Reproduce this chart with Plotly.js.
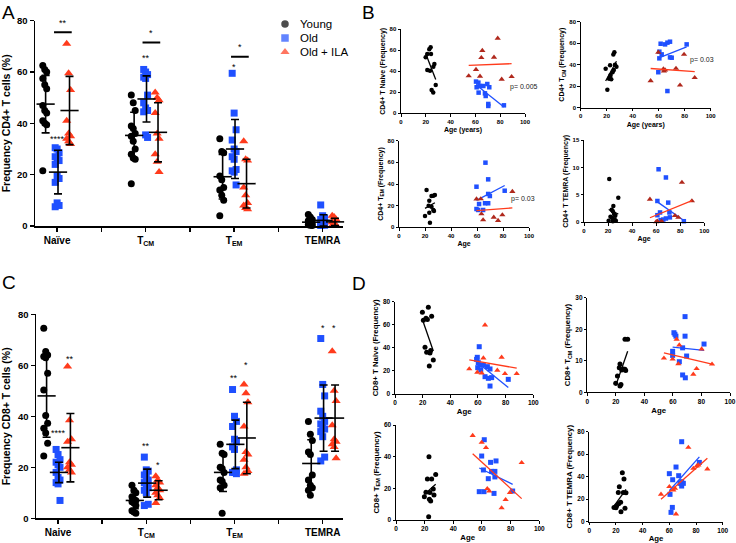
<!DOCTYPE html>
<html><head><meta charset="utf-8">
<script src="https://cdn.plot.ly/plotly-3.0.1.min.js"></script>
<style>html,body{margin:0;padding:0;background:#fff}#chart{width:736px;height:543px}</style>
</head><body><div id="chart"></div><script>
// ---------- Panel A / C data (frequency, %) ----------
const categoriesA = ['Naïve','T<sub>CM</sub>','T<sub>EM</sub>','TEMRA'];
const categoriesC = ['Naive','T<sub>CM</sub>','T<sub>EM</sub>','TEMRA'];
const groupNames = ['Young','Old','Old + ILA'];

const cd4Young = [[62.5,61,60,57.5,55,53.5,47,45,44,41,40,39.5,21.5],[51,48,45,39,38,36,35,33,30,28,26.5,26,16.5],[34,29,28.5,19.5,18,15,14,12,10,4],[4.5,3.5,2.5,2,1.5,1,0.5,0.3,0.2]];
const cd4Old   = [[30.5,30,28.5,27,26,25.5,24,19.5,18.5,17,9,8,7.5],[61,60,59,58,57.5,51,48,46,45,44.5,35.5,34.5],[59.5,44,37.5,33.5,30,29,27,26,22,21.5,21,16],[8.2,4,3,2.5,2,1.5,1,0.5,0.3,0.2]];
const cd4Ila   = [[71,59.5,53,41,36,35,34,33,32],[52,50,49,44,36,34,28,25,21],[33,26,25.5,15,12,9,8,7,6.5],[4,3.5,2.5,1.5,0.5,0.3,0.2]];
const cd4YoungMean = [47.5,35.3,19.2,1.5], cd4YoungSD = [11.2,9,8.7,1.4];
const cd4OldMean   = [21,49.5,30,2.2],    cd4OldSD   = [8.5,9,11.5,2.2];
const cd4IlaMean   = [45,36.5,16.5,1.6],  cd4IlaSD   = [13.3,11.5,9.5,1.4];
const cd4SigCat  = [0,0,1,1,2,2];
const cd4SigKind = ['bar','Old','bar','Old','bar','Old'];
const cd4SigY    = [75.5,34,71.5,65.5,66,62];
const cd4SigText = ['**','****','*','**','*','*'];

const cd8Young = [[74.5,65.4,64,63.5,63,56.9,50.3,40.3,37.3,35.3,33.5,29.4,24.4],[13,11,10,8.5,7.5,7,6.5,6,5,3,2.5,2],[29,25.5,25,20,19.5,18,15,14.5,13,12,2],[38,33,30.5,26,25,17,15,13,12,11,9]];
const cd8Old   = [[27,25,23,22,21,20,18,16,15,14,13.5,7],[24,19,18.5,17,16,15,14,13,12,11,10,5.5,5],[50.5,40,38,36,31,30,28,27,19,18,18,17.5],[70.5,52.5,48,42,40,38,37,36,35,34,32,24,22.5]];
const cd8Ila   = [[59.5,38.5,31,30,22,21,20,19,18],[16.5,15,14,13,12,11,10,9,8,6],[52.5,49,45.5,36,26,25,23,20,18.5,17.5],[65.5,50,46,36.5,31,30,29,28,23.5]];
const cd8YoungMean = [48,7,18,21.5],    cd8YoungSD = [16.2,3.2,7.5,9.3];
const cd8OldMean   = [18,13.8,29,39.3], cd8OldSD   = [4,5.5,9.5,13];
const cd8IlaMean   = [27.7,11,31.5,39.3], cd8IlaSD = [13.4,3.7,14,13];
const cd8SigCat  = [0,0,1,1,2,2,3,3];
const cd8SigKind = ['Old','Ila','Old','Ila','Old','Ila','Old','Ila'];
const cd8SigY    = [33.5,62.5,28.5,21,55,60,74.5,74.5];
const cd8SigText = ['****','**','**','*','**','*','*','*'];

// ---------- Panel B / D data (age vs frequency) ----------
const b1YoungAge=[23.9,22.8,21.2,24.2,19.9,26.9,26.1,21.2,23.4,28,24.7,26];
const b1YoungVal=[62.9,61,56.5,56.5,53.3,47,44.4,41.3,40.6,27,22.2,19.7];
const b1OldAge=[60.5,62.4,61,63.7,66.4,69.6,71.2,62.6,67.7,68.3,70.4,70.4,83];
const b1OldVal=[30.2,29.2,24.8,26,26,27.9,24.8,19.7,19,16.5,8.9,7,7.6];
const b1IlaAge=[78,65.6,64.8,75,60.5,54.6,63.7,81.2,89.2];
const b1IlaVal=[71.4,59.7,53,53.3,41.6,35.6,35.2,32.4,34.9];

const b2YoungAge=[19.2,20.5,25.1,25.9,22.6,26.4,27.5,21.8,22.5,23.5,24.5,25.5,23];
const b2YoungVal=[36.3,16.7,49.6,51.5,39.4,39.9,38,27,29,26.5,33,35,30.5];
const b2OldAge=[61.5,64.9,66.7,68.7,62.3,60.5,60.5,68.7,70,81.5,59.7,66.7];
const b2OldVal=[59.5,58.9,60.5,61.4,49.6,52.1,45.9,46.8,46.5,58.9,33,15.5];
const b2IlaAge=[59.7,63.6,64.9,73.3,79.5,53.8,76.4,87.7,64];
const b2IlaVal=[51.5,35.9,35,36.5,49.6,25,21,27.9,34];

const b3YoungAge=[21.2,25,26.4,27.6,23.3,22.8,25,26.4,20,23.3,26.9,23.8];
const b3YoungVal=[34.5,28.9,29.2,29.8,24.6,20,19,16,10.5,13.5,15,4.3];
const b3OldAge=[66.5,68.6,59.6,81.3,68.6,69.9,66.2,68.6,61.6,59.6,60.9,64.7];
const b3OldVal=[59.7,44.3,37.5,33.8,30.8,28.9,22.2,22.2,21.5,16.9,16,16];
const b3IlaAge=[59.6,62.9,87.2,63.4,64.7,72.9,76.2,79.5];
const b3IlaVal=[26.1,26.2,33,12.3,6.8,9.2,6.2,11.4];

const b4YoungAge=[21,28.5,24.4,23,24,25,26,22,23.5,25.5,26.5,24,20.5];
const b4YoungVal=[7.9,4.5,3,2.3,2,1.5,1.2,1,0.8,0.5,0.3,0.2,0.3];
const b4OldAge=[62,68.1,61,70,63.2,61,71,63.7,65.9,68.1,71.4,83];
const b4OldVal=[9.7,8.2,3.9,3.6,1.8,1.3,1.8,0.4,0.5,0.7,0.9,0.2];
const b4IlaAge=[54.8,81.4,89.7,75.6,78.4,61,64.5,60];
const b4IlaVal=[4.2,7.3,3.9,1.2,0.9,0.2,0.2,0.1];

const d1YoungAge=[19.8,24.1,22.4,23.4,26.5,20.5,21.7,22.9,25.8,25.3,27.7,24.8];
const d1YoungVal=[70.8,75.1,65.6,64.5,67.4,63.9,40.5,36.1,37.6,35.5,29.5,24.3];
const d1OldAge=[60.9,59.5,59,60.2,61.4,59.8,63.9,66.8,68.7,65.1,67.5,69.9,68.7,81.9,62];
const d1OldVal=[41,31.8,30,27.2,25.1,22.8,25.1,23.7,21.7,15,13.6,14.2,6.9,12.7,20.8];
const d1IlaAge=[65.1,53.7,63.9,77.1,74,79.5,88,59.5,62.7];
const d1IlaVal=[59.8,21.7,31.2,31.8,20.5,17.6,17.6,18.8,18.2];

const d2YoungAge=[26.4,28.3,19.9,22.9,23.6,21.1,22.4,22.9,25.2,26.4,24.1,26.9];
const d2YoungVal=[16.8,16.8,2.9,2,2.5,5.2,7.8,9,7.4,7.3,7.1,6.9];
const d2OldAge=[68.5,60.7,61.4,62.1,68.5,81.8,59.8,66.8,59.8,69.6,64.5,66.8,68.7];
const d2OldVal=[24,18.9,18.4,17.8,17.8,15.3,13,14.1,11.7,11.5,9.7,5.5,4.6];
const d2IlaAge=[53.7,59.8,62.6,64.5,63.8,74.3,76.6,80.1,87.4];
const d2IlaVal=[10.8,10.5,16.8,15,9,5.7,7.5,13.7,8.9];

const d3YoungAge=[23,21.9,24.9,27.7,19.8,20.9,23.7,26,26.5,23.3,24.2,22.8];
const d3YoungVal=[40,25.9,25.9,28.8,14.7,17.5,17.3,19.6,15.8,13.1,12,2.1];
const d3OldAge=[61.6,59.8,66,69.8,61,66.7,69,69,64.4,81.4,68.4,58.1,61.4];
const d3OldVal=[50.7,40.4,36.4,37.3,31.6,30.7,30.7,27.2,26.1,18.3,16.8,17.9,17.9];
const d3IlaAge=[53.5,59.8,62.8,87.7,63.7,65.1,79.5,76.5,73.7];
const d3IlaVal=[53.3,49,45.7,36.2,19.8,18.3,17.3,12.8,7.6];

const d4YoungAge=[24.75,26,22.5,21.75,25.5,27.5,18.5,20.5,22,23.5,20,26.75,23.75];
const d4YoungVal=[43.6,37.9,31.1,26,26,25.8,12.7,14.2,16,17.2,12.4,11.9,8.9];
const d4OldAge=[69.25,82.5,65,60,62.5,67,69.25,70.5,68,69.25,60.5,62.25,61.25];
const d4OldVal=[71.1,52.7,48.6,42.7,37.3,40.9,35.6,34.1,34.1,31.7,24.3,12.7,8.3];
const d4IlaAge=[74.25,88.5,78,80.5,60,64.25,63,53.75,65,81.75];
const d4IlaVal=[66,46.8,47.4,49.5,31.1,29.6,28.1,24.3,6.8,50.4];

// ---------- styling ----------
const FONT = 'Liberation Sans, Arial, Helvetica, sans-serif';
const BLUE = '#1f50ff', RED = '#ff3b1c', DARKRED = '#b0281c', BLACK = '#000';
const W = 736, H = 543;
const px = (a,b) => [a/W, b/W];
const py = (top,bot) => [1-bot/H, 1-top/H];
const grpOffset = [-0.14, 0, 0.13];
const grpStyle = [
  {color:BLACK, symbol:'circle', size:7},
  {color:BLUE, symbol:'square', size:7},
  {color:RED, symbol:'triangle-up', size:8}
];
const jitter = i => ((i%3)-1)*0.022;

const traces = [];
const shapes = [];
const annotations = [];
const layout = {
  width:W, height:H, margin:{l:0,r:0,t:0,b:0},
  paper_bgcolor:'#fff', plot_bgcolor:'rgba(0,0,0,0)',
  font:{family:FONT, color:BLACK},
  showlegend:false,
  shapes, annotations
};

function catPanel(xn, yn, xdom, ydom, cats, data, means, sds, sig, yTitle){
  const xa = 'x'+(xn===1?'':xn), ya = 'y'+(yn===1?'':yn);
  data.forEach((grp, g) => {
    const xs = [], ys = [];
    grp.forEach((vals, c) => vals.forEach((v, i) => { xs.push(c + grpOffset[g] + jitter(i)); ys.push(v); }));
    traces.push({type:'scatter', mode:'markers', x:xs, y:ys, xaxis:xa, yaxis:ya, name:groupNames[g],
      showlegend:false, cliponaxis:false,
      marker:{color:grpStyle[g].color, symbol:grpStyle[g].symbol, size:grpStyle[g].size, line:{width:0}}});
  });
  means.forEach((m, g) => {
    traces.push({type:'scatter', mode:'markers', x:m.map((v,c)=>c+grpOffset[g]+0.01), y:m, xaxis:xa, yaxis:ya,
      showlegend:false, hoverinfo:'skip', cliponaxis:false,
      marker:{symbol:'line-ew-open', size:13, color:BLACK, line:{width:1.6, color:BLACK}},
      error_y:{type:'data', array:sds[g], visible:true, color:BLACK, thickness:1.6, width:4}});
  });
  // significance marks
  sig.cat.forEach((c, k) => {
    const y = sig.y[k];
    if (sig.kind[k] === 'bar') {
      shapes.push({type:'line', xref:xa, yref:ya, x0:c-0.035, x1:c+0.165, y0:y, y1:y, line:{color:BLACK, width:2}});
      annotations.push({xref:xa, yref:ya, x:c+0.065, y:y+1, text:sig.text[k], showarrow:false, yanchor:'bottom', font:{size:9, family:FONT, color:BLACK}});
    } else {
      const off = sig.kind[k]==='Old' ? grpOffset[1] : grpOffset[2];
      annotations.push({xref:xa, yref:ya, x:c+off, y:y, text:sig.text[k], showarrow:false, yanchor:'middle', font:{size:9, family:FONT, color:BLACK}});
    }
  });
  const xkey = 'xaxis'+(xn===1?'':xn), ykey = 'yaxis'+(yn===1?'':yn);
  layout[xkey] = {domain:xdom, range:[-0.25,3.23], anchor:ya, tickmode:'array', tickvals:[0,1,2,3],
    ticktext:cats, ticks:'outside', ticklen:4, tickwidth:1.5, tickcolor:BLACK,
    minor:{tickmode:'array', tickvals:[0.5,1.5,2.5], ticks:'outside', ticklen:4, tickwidth:1.5, tickcolor:BLACK, showgrid:false},
    showline:true, linewidth:1.5, linecolor:BLACK, showgrid:false, zeroline:false, fixedrange:true,
    tickfont:{size:10, family:FONT, weight:'bold', color:BLACK}};
  layout[ykey] = {domain:ydom, range:[0,80], anchor:xa, tickvals:[0,20,40,60,80], ticks:'outside', ticklen:4, tickwidth:1.5,
    tickcolor:BLACK, showline:true, linewidth:1.5, linecolor:BLACK, showgrid:false, zeroline:false, fixedrange:true,
    tickfont:{size:9.5, family:FONT, weight:'bold', color:BLACK},
    title:{text:yTitle, font:{size:10.5, family:FONT, weight:'bold', color:BLACK}, standoff:5}};
}

catPanel(1, 1, px(35,343), py(20.7,226), categoriesA, [cd4Young, cd4Old, cd4Ila],
  [cd4YoungMean, cd4OldMean, cd4IlaMean], [cd4YoungSD, cd4OldSD, cd4IlaSD],
  {cat:cd4SigCat, kind:cd4SigKind, y:cd4SigY, text:cd4SigText}, 'Frequency CD4+ T cells (%)');
catPanel(2, 2, px(36,343), py(314.3,518.3), categoriesC, [cd8Young, cd8Old, cd8Ila],
  [cd8YoungMean, cd8OldMean, cd8IlaMean], [cd8YoungSD, cd8OldSD, cd8IlaSD],
  {cat:cd8SigCat, kind:cd8SigKind, y:cd8SigY, text:cd8SigText}, 'Frequency CD8+ T cells (%)');

// legend of panel A, drawn on its own hidden axis so the row spacing matches
traces.push({type:'scatter', mode:'markers', x:groupNames.map(()=>5), y:groupNames.map((n,i)=>i),
  xaxis:'x11', yaxis:'y11', showlegend:false, hoverinfo:'skip', cliponaxis:false,
  marker:{color:grpStyle.map(s=>s.color), symbol:grpStyle.map(s=>s.symbol), size:[7.5,7.5,8], line:{width:0}}});
groupNames.forEach((n,i) => annotations.push({xref:'x11', yref:'y11', x:18, y:i, text:n, showarrow:false,
  xanchor:'left', yanchor:'middle', font:{size:11.5, family:FONT, color:BLACK}}));
layout.xaxis11 = {domain:px(280,340), range:[0,60], anchor:'y11', visible:false, fixedrange:true};
layout.yaxis11 = {domain:py(17,59), range:[2.5,-0.5], anchor:'x11', visible:false, fixedrange:true};

function fit(xs, ys){
  const n = xs.length, mx = xs.reduce((a,b)=>a+b,0)/n, my = ys.reduce((a,b)=>a+b,0)/n;
  let sxy = 0, sxx = 0;
  xs.forEach((x,i)=>{ sxy += (x-mx)*(ys[i]-my); sxx += (x-mx)*(x-mx); });
  const b = sxy/sxx, a = my - b*mx;
  const x0 = Math.min(...xs), x1 = Math.max(...xs);
  return {x:[x0,x1], y:[a+b*x0, a+b*x1]};
}

function agePanel(n, xdom, ydom, yRange, yTicks, yTitle, xTitle, groups, triColor, sizes, pText){
  const xa = 'x'+n, ya = 'y'+n;
  const lineColors = [BLACK, BLUE, RED];
  groups.forEach((gr, g) => {
    const st = grpStyle[g];
    traces.push({type:'scatter', mode:'markers', x:gr[0], y:gr[1], xaxis:xa, yaxis:ya, showlegend:false, cliponaxis:false,
      marker:{color: g===2 ? triColor : st.color, symbol:st.symbol, size: g===2 ? sizes.tri : sizes.pt, line:{width:0}}});
    const f = fit(gr[0], gr[1]);
    traces.push({type:'scatter', mode:'lines', x:f.x, y:f.y, xaxis:xa, yaxis:ya, showlegend:false, hoverinfo:'skip',
      line:{color:lineColors[g], width:1.3}});
  });
  if (pText) annotations.push({xref:xa, yref:ya, x:pText.x, y:pText.y, text:pText.text, showarrow:false, xanchor:'left', yanchor:'middle', font:{size:sizes.p, family:FONT, color:'#222'}});
  layout['xaxis'+n] = {domain:xdom, range:[0,100], anchor:ya, tickvals:[0,20,40,60,80,100], ticks:'outside', ticklen:2.5, tickwidth:1,
    tickcolor:BLACK, showline:true, linewidth:1, linecolor:BLACK, showgrid:false, zeroline:false, fixedrange:true,
    tickfont:{size:sizes.tick, family:FONT, weight:'bold', color:BLACK},
    title:{text:xTitle, font:{size:sizes.title, family:FONT, weight:'bold', color:BLACK}, standoff:3}};
  layout['yaxis'+n] = {domain:ydom, range:yRange, anchor:xa, tickvals:yTicks, ticks:'outside', ticklen:2.5, tickwidth:1,
    tickcolor:BLACK, showline:true, linewidth:1, linecolor:BLACK, showgrid:false, zeroline:false, fixedrange:true,
    tickfont:{size:sizes.tick, family:FONT, weight:'bold', color:BLACK},
    title:{text:yTitle, font:{size:sizes.title, family:FONT, weight:'bold', color:BLACK}, standoff:3}};
}
const sB = {pt:4.5, tri:5.5, tick:6, title:7, p:7};
const sD = {pt:5, tri:5.5, tick:6.5, title:7.8, p:7};

agePanel(3, px(401,525), py(29.3,113.3), [0,80], [0,20,40,60,80], 'CD4+ T Naive (Frequency)', 'Age (years)',
  [[b1YoungAge,b1YoungVal],[b1OldAge,b1OldVal],[b1IlaAge,b1IlaVal]], DARKRED, sB, {x:86.5, y:24.8, text:'p= 0.005'});
agePanel(4, px(580.7,710.7), py(21.7,107.7), [0,80], [0,20,40,60,80], 'CD4+ T<sub>CM</sub> (Frequency)', 'Age (years)',
  [[b2YoungAge,b2YoungVal],[b2OldAge,b2OldVal],[b2IlaAge,b2IlaVal]], DARKRED, sB, {x:82.8, y:44.3, text:'p= 0.03'});
agePanel(5, px(399,529), py(140.7,227.3), [0,80], [0,20,40,60,80], 'CD4+ T<sub>EM</sub> (Frequency)', 'Age',
  [[b3YoungAge,b3YoungVal],[b3OldAge,b3OldVal],[b3IlaAge,b3IlaVal]], DARKRED, sB, {x:84.7, y:25.8, text:'p= 0.03'});
agePanel(6, px(584,704.3), py(140.3,222.3), [0,15], [0,5,10,15], 'CD4+ T TEMRA (Frequency)', 'Age',
  [[b4YoungAge,b4YoungVal],[b4OldAge,b4OldVal],[b4IlaAge,b4IlaVal]], DARKRED, sB, null);
agePanel(7, px(395,533.3), py(301.7,394), [0,80], [0,20,40,60,80], 'CD8+ T Naive (Frequency)', 'Age',
  [[d1YoungAge,d1YoungVal],[d1OldAge,d1OldVal],[d1IlaAge,d1IlaVal]], RED, sD, null);
agePanel(8, px(587.3,730), py(297.7,392.3), [0,30], [0,10,20,30], 'CD8+ T<sub>CM</sub> (Frequency)', 'Age',
  [[d2YoungAge,d2YoungVal],[d2OldAge,d2OldVal],[d2IlaAge,d2IlaVal]], RED, sD, null);
agePanel(9, px(396,539.3), py(425,520), [0,60], [0,20,40,60], 'CD8+ T<sub>EM</sub> (Frequency)', 'Age',
  [[d3YoungAge,d3YoungVal],[d3OldAge,d3OldVal],[d3IlaAge,d3IlaVal]], RED, sD, null);
agePanel(10, px(589.3,722.7), py(431.7,521.7), [0,80], [0,20,40,60,80], 'CD8+ T TEMRA (Frequency)', 'Age',
  [[d4YoungAge,d4YoungVal],[d4OldAge,d4OldVal],[d4IlaAge,d4IlaVal]], RED, sD, null);

// panel letters
[['A',0,0],['B',360,0],['C',0,270],['D',350,271]].forEach(([t,x,y]) => {
  annotations.push({xref:'paper', yref:'paper', x:x/W, y:1-y/H, text:t, showarrow:false, xanchor:'left', yanchor:'top',
    font:{size:19, family:FONT, color:BLACK}});
});

Plotly.newPlot('chart', traces, layout, {staticPlot:true, displayModeBar:false});
</script></body></html>
